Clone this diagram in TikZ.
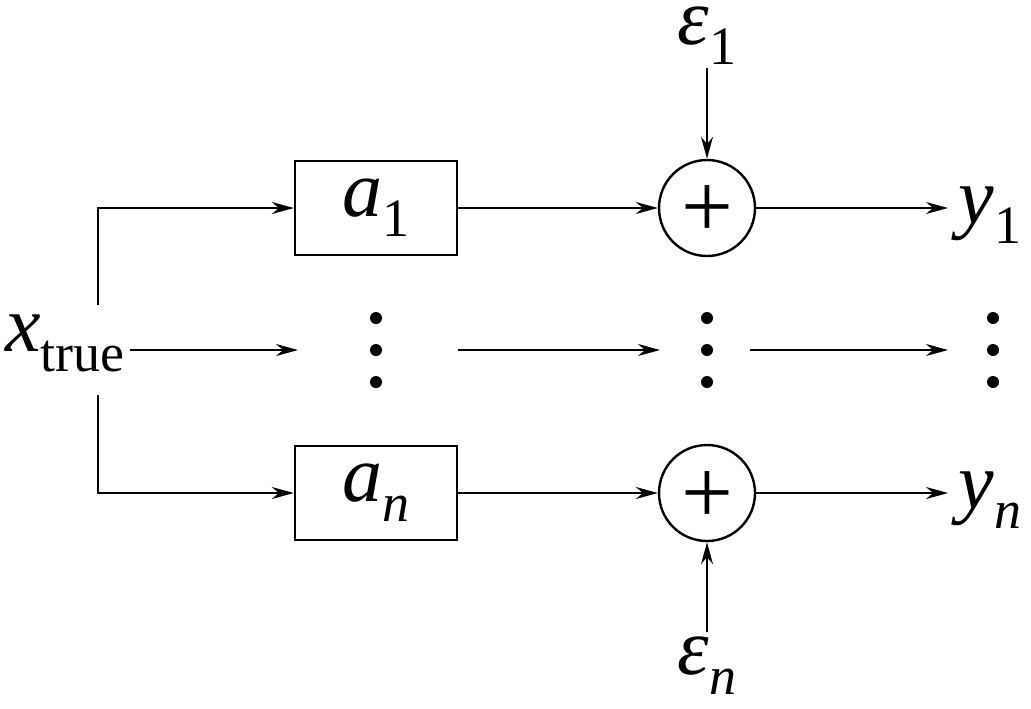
\documentclass[tikz,border=0pt]{standalone}
\usepackage{fontspec}
\setmainfont{Liberation Serif}
\usetikzlibrary{arrows.meta}
\newcommand{\vr}[2]{{\itshape #1}\raisebox{-0.25em}{\fontsize{27}{30}\selectfont #2}}
\begin{document}
\begin{tikzpicture}[x=0.5pt,y=-0.5pt,
  lbl/.style={inner sep=0pt,font=\fontsize{40}{44}\selectfont},
  blk/.style={draw,line width=1.2pt,minimum width=81pt,minimum height=47pt,inner sep=0pt,font=\fontsize{40}{44}\selectfont},
  sum/.style={draw,circle,line width=1.2pt,minimum size=48pt,inner sep=0pt,font=\fontsize{46}{50}\selectfont},
  arr/.style={-{Stealth[length=11pt,width=6pt]},line width=0.9pt},
  dot/.style={fill,circle,inner sep=0pt,minimum size=6pt}]
\useasboundingbox (0,0) rectangle (1031,708);
\node[blk] (a1) at (376,208) {\vr{a}{1}};
\node[blk] (an) at (376,493) {\vr{a}{\itshape n}};
\node[sum] (s1) at (707,208) {};
\node[sum] (sn) at (707,493) {};
\node[inner sep=0pt,font=\fontsize{46}{50}\selectfont] at (707,212) {+};
\node[inner sep=0pt,font=\fontsize{46}{50}\selectfont] at (707,497) {+};
\node[lbl] (e1) at (707,36) {\vr{ε}{1}};
\node[lbl] (en) at (707,666) {\vr{ε}{\itshape n}};
\node[lbl] (y1) at (990,215) {\vr{y}{1}};
\node[lbl] (yn) at (990,500) {\vr{y}{\itshape n}};
\node[lbl] (x) at (65,343) {\vr{x}{true}};
\coordinate (xt) at (98,305);
\coordinate (xb) at (98,395);
\coordinate (xm) at (130,350);
\foreach \xx/\nm in {376/d1,707/d2,993/d3}{
  \node[dot] (\nm a) at (\xx,318) {};
  \node[dot] (\nm b) at (\xx,350) {};
  \node[dot] (\nm c) at (\xx,382) {};
}
\coordinate (e1s) at (707,68);
\coordinate (ens) at (707,632);
\draw[arr] (xt) |- (a1.west);
\draw[arr] (xb) |- (an.west);
\draw[arr] (xm) -- (298,350);
\draw[arr] (458,350) -- (660,350);
\draw[arr] (750,350) -- (948,350);
\draw[arr] (a1.east) -- (s1.west);
\draw[arr] (an.east) -- (sn.west);
\draw[arr] (e1s) -- (s1.north);
\draw[arr] (ens) -- (sn.south);
\draw[arr] (s1.east) -- (948,208);
\draw[arr] (sn.east) -- (948,493);
\end{tikzpicture}
\end{document}
